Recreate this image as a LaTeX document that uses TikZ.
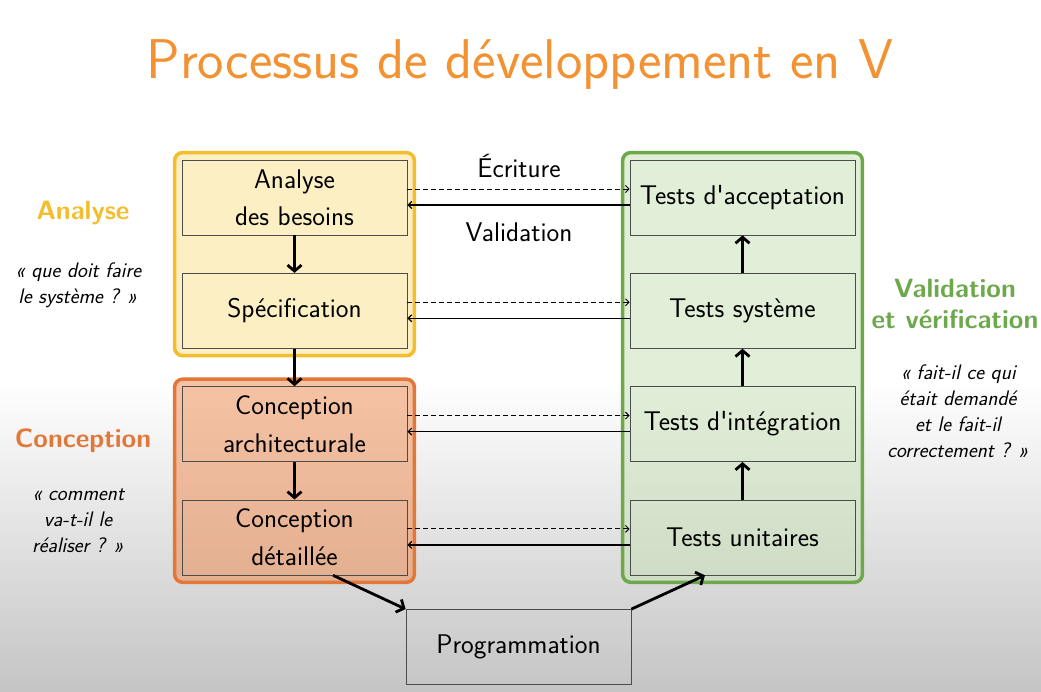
\documentclass[tikz,border=0pt]{standalone}
\usepackage{fontspec}
\usetikzlibrary{arrows.meta, positioning, fit, backgrounds}
\usepackage{xcolor}
\definecolor{titre}{HTML}{F39232}
\definecolor{jaune}{HTML}{F3BD2D}
\definecolor{jaunefond}{HTML}{FBE189}
\definecolor{orange}{HTML}{E2773A}
\definecolor{orangefond}{HTML}{ED8749}
\definecolor{vert}{HTML}{6DA94C}
\definecolor{vertfond}{HTML}{C5E0B3}
\newcommand{\etapefont}{\sffamily\fontsize{27}{37.5}\selectfont}
\newcommand{\phasefont}{\sffamily\bfseries\fontsize{26.5}{31}\selectfont}
\newcommand{\questfont}{\sffamily\itshape\fontsize{21}{26}\selectfont}
\tikzstyle{etape} = [rectangle, minimum width=225pt, minimum height=75pt, text centered, align=center, draw=black!70, line width=0.8pt, font=\etapefont]
\tikzstyle{groupe} = [rectangle, rounded corners=8pt, line width=3.5pt, inner sep=7pt, fill opacity=0.5]
\tikzstyle{arrow} = [line width=2.8pt,-{Straight Barb[length=6pt,width=14pt]}]
\tikzstyle{ecriture} = [line width=0.9pt,-{Straight Barb[length=3.5pt,width=7pt]},dash pattern=on 5pt off 3pt]
\tikzstyle{retour} = [line width=1.2pt,-{Straight Barb[length=3.5pt,width=7pt]}]
\tikzstyle{phase} = [align=center, font=\phasefont]
\tikzstyle{question} = [align=center, font=\questfont]

\begin{document}
\begin{tikzpicture}[x=1pt, y=-1pt]
      \useasboundingbox (0,0) rectangle (1041,692);

      \node (titre) [text=titre, font=\sffamily\fontsize{56}{66}\selectfont] at (520,65) {Processus de développement en V};

      % branche descendante
      \node (besoins) [etape] at (294.5,197.5) {Analyse\\des besoins};
      \node (spec) [etape, below=37.5pt of besoins] {Spécification};
      \node (archi) [etape, below=37.5pt of spec] {Conception\\architecturale};
      \node (detail) [etape, below=37.5pt of archi] {Conception\\détaillée};

      % branche montante
      \node (accept) [etape] at (742.5,197.5) {Tests d\textquotesingle acceptation};
      \node (systeme) [etape, below=37.5pt of accept] {Tests système};
      \node (integ) [etape, below=37.5pt of systeme] {Tests d\textquotesingle intégration};
      \node (unit) [etape, below=37.5pt of integ] {Tests unitaires};

      \node (prog) [etape] at (518.5,647) {Programmation};

      \begin{scope}[on background layer]
        \fill[white] (0,0) rectangle (1041,692);
        \shade[top color=white, bottom color=black!23] (0,380) rectangle (1041,692);
        \node (phaseA) [groupe, draw=jaune, fill=jaunefond, fit=(besoins)(spec)] {};
        \node (phaseC) [groupe, draw=orange, fill=orangefond, fit=(archi)(detail)] {};
        \node (phaseV) [groupe, draw=vert, fill=vertfond, fit=(accept)(unit)] {};
      \end{scope}

      \draw [arrow] (besoins) -- (spec);
      \draw [arrow] (spec) -- (archi);
      \draw [arrow] (archi) -- (detail);
      \draw [arrow] (unit) -- (integ);
      \draw [arrow] (integ) -- (systeme);
      \draw [arrow] (systeme) -- (accept);
      \draw [arrow] ([xshift=38.5pt]detail.south) -- (prog.north west);
      \draw [arrow] (prog.north east) -- ([xshift=-37.5pt]unit.south);

      \foreach \gauche/\droite in {besoins/accept, spec/systeme, archi/integ, detail/unit}{
        \draw [ecriture] ([yshift=8.5pt]\gauche.east) -- ([yshift=8.5pt]\droite.west);
        \draw [retour] ([yshift=-7.5pt]\droite.west) -- ([yshift=-7.5pt]\gauche.east);
      }
      \node (ecrit) [font=\etapefont] at (519,166) {Écriture};
      \node (valid) [font=\etapefont] at (519,232) {Validation};

      \node (lblA) [phase, text=jaune] at (83,213) {Analyse};
      \node (qA) [question] at (78,285) {« que doit faire\\le système ? »};
      \node (lblC) [phase, text=orange] at (83,441) {Conception};
      \node (qC) [question] at (78,521) {« comment\\va-t-il le\\réaliser ? »};
      \node (lblV) [phase, text=vert] at (955,303.5) {Validation\\et vérification};
      \node (qV) [question] at (958,411) {« fait-il ce qui\\était demandé\\et le fait-il\\correctement ? »};
    \end{tikzpicture}
\end{document}
